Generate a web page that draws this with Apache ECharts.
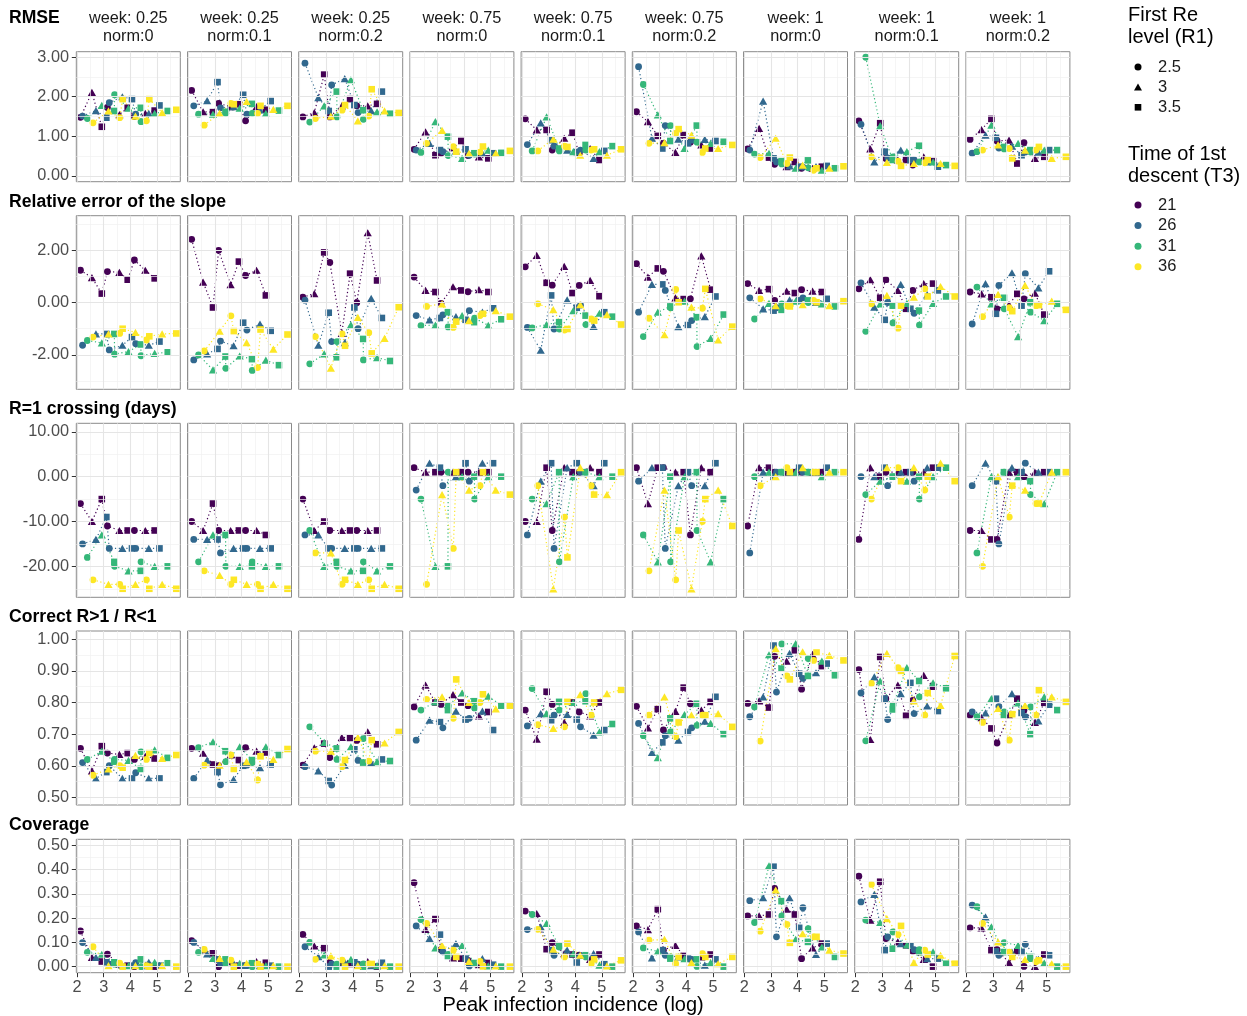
<!DOCTYPE html>
<html><head><meta charset="utf-8">
<script src="https://cdn.jsdelivr.net/npm/echarts@6/dist/echarts.min.js"></script>
<style>html,body{margin:0;padding:0;background:#fff}#c{width:1247px;height:1016px}</style>
</head><body><div id="c"></div>
<script>
// ---------------- DATA ----------------
const weekLabels = ['week: 0.25','week: 0.25','week: 0.25','week: 0.75','week: 0.75','week: 0.75','week: 1','week: 1','week: 1'];
const normLabels = ['norm:0','norm:0.1','norm:0.2','norm:0','norm:0.1','norm:0.2','norm:0','norm:0.1','norm:0.2'];
const rowTitles = ['RMSE','Relative error of the slope','R=1 crossing (days)','Correct R>1 / R<1','Coverage'];
const r1Levels = ['2.5','3','3.5'];
const t3Levels = ['21','26','31','36'];
// R1 level of each point (same order as values below)
const pointR1 = ['2.5','3','3.5','2.5','3','3.5','2.5','3','3.5'];
// peak infection incidence (log) of each point, per T3 level
const peakX21 = [2.13, 2.56, 2.93, 3.14, 3.59, 3.90, 4.15, 4.56, 4.91];
const peakX26 = [2.21, 2.71, 3.10, 3.21, 3.70, 4.06, 4.20, 4.69, 5.09];
const peakX31 = [2.39, 2.93, 3.40, 3.41, 3.93, 4.39, 4.40, 4.91, 5.40];
const peakX36 = [2.60, 3.18, 3.71, 3.60, 4.19, 4.71, 4.60, 5.19, 5.72];

// each metric: 9 panels x [T3=21, 26, 31, 36] x 9 points
const rmse = [
 [[1.48,2.11,1.24,1.73,1.55,1.72,1.50,1.58,1.65],[1.51,1.65,1.47,1.85,2.00,1.94,1.56,1.58,1.78],[1.45,1.78,1.64,2.05,1.71,1.72,1.37,1.58,1.64],[1.34,1.64,1.94,1.47,1.51,1.94,1.39,1.60,1.67]],
 [[2.16,1.62,1.61,1.83,1.75,1.81,1.39,1.75,1.67],[1.77,1.90,2.37,1.72,1.75,2.05,1.56,1.67,1.89],[1.56,1.56,1.62,1.58,1.71,1.82,1.58,1.58,1.65],[1.28,1.58,1.81,1.83,1.88,1.77,1.58,1.68,1.77]],
 [[1.49,1.60,2.56,1.49,1.77,1.94,1.77,1.77,1.82],[2.85,1.98,1.64,2.30,2.46,1.79,1.60,1.65,2.13],[1.36,1.77,2.13,1.49,2.43,1.66,1.43,1.62,1.57],[1.45,1.51,1.79,1.66,1.39,2.19,1.51,1.64,1.59]],
 [[0.67,1.11,0.52,0.57,0.71,0.88,0.51,0.48,0.44],[0.65,0.82,0.65,0.61,0.63,0.67,0.52,0.57,0.57],[0.59,1.37,0.99,0.51,0.44,0.57,0.55,0.65,0.58],[0.82,1.15,0.61,0.74,0.57,0.74,0.60,0.57,0.63]],
 [[1.44,1.16,1.16,0.65,0.95,1.09,0.57,0.69,0.40],[0.79,1.34,0.90,0.75,0.65,0.60,0.65,0.44,0.63],[0.63,1.49,0.69,0.63,0.61,0.78,0.65,0.61,0.75],[0.63,0.93,0.73,0.75,0.52,0.67,0.65,0.52,0.67]],
 [[1.62,1.37,1.01,0.82,0.59,1.03,0.85,0.78,0.69],[2.76,0.95,0.69,1.27,0.93,0.82,0.90,0.92,0.88],[2.31,1.54,0.88,1.27,0.69,1.27,0.85,0.82,0.86],[0.82,0.84,1.18,1.07,1.03,0.69,0.59,0.69,0.78]],
 [[0.68,1.20,0.46,0.29,0.23,0.35,0.19,0.19,0.23],[0.65,1.89,0.44,0.35,0.25,0.23,0.22,0.23,0.25],[0.55,0.57,0.37,0.30,0.19,0.39,0.20,0.14,0.19],[0.46,0.95,0.46,0.31,0.27,0.19,0.14,0.19,0.24]],
 [[1.39,0.68,1.33,0.44,0.40,0.40,0.27,0.48,0.37],[1.30,0.35,0.61,0.45,0.65,0.40,0.40,0.35,0.23],[3.00,1.27,0.40,0.48,0.61,0.76,0.35,0.35,0.27],[0.48,0.34,0.25,0.37,0.31,0.40,0.33,0.31,0.25]],
 [[0.92,1.17,1.44,0.88,0.90,0.31,0.84,0.44,0.48],[0.57,1.03,0.96,0.70,0.75,0.52,0.60,0.60,0.65],[0.61,1.28,0.73,0.68,0.82,0.65,0.60,0.65,0.65],[0.65,0.78,0.44,0.69,0.65,0.73,0.65,0.44,0.48]]
];
const slopeErr = [
 [[1.23,0.95,0.34,1.18,1.15,0.87,1.62,1.23,0.92],[-1.63,-1.20,-1.20,-1.81,-1.63,-1.32,-1.57,-1.63,-1.49],[-1.45,-1.54,-1.20,-1.97,-1.87,-1.60,-2.03,-1.94,-1.90],[-1.32,-1.20,-1.00,-1.18,-1.14,-1.29,-1.43,-1.20,-1.18]],
 [[2.41,0.78,-0.19,1.99,0.68,1.56,1.03,1.23,0.27],[-2.19,-1.96,-1.77,-1.47,-1.65,-0.77,-1.05,-0.82,-1.08],[-2.00,-2.57,-2.06,-2.51,-2.04,-2.16,-2.59,-2.20,-2.39],[-1.85,-1.09,-1.09,-0.51,-1.53,-1.03,-2.48,-1.78,-1.22]],
 [[0.20,0.34,1.91,1.53,-1.18,1.10,-0.01,2.66,0.84],[0.09,-1.63,-0.39,-1.49,-1.53,-0.19,-1.00,0.16,-0.59],[-2.34,-1.96,-2.09,-1.49,-0.85,-1.39,-2.19,-2.10,-2.23],[-1.30,-2.50,-1.65,-1.20,-0.57,-1.94,-1.15,-1.37,-0.18]],
 [[0.97,0.46,0.40,-0.03,0.60,0.46,0.41,0.49,0.40],[-0.50,-0.66,-0.59,-0.47,-0.54,-0.66,-0.31,-0.37,-0.22],[-0.88,-0.86,-0.37,-0.93,-0.50,-0.75,-0.60,-0.87,-0.64],[-0.15,-0.05,-0.73,-0.95,-0.69,-0.43,-0.50,-0.31,-0.54]],
 [[1.36,1.80,0.75,0.66,1.38,0.36,0.65,0.84,0.24],[-0.95,-1.82,0.27,-1.01,0.10,-0.20,-0.10,-0.91,-0.37],[-0.97,-0.84,-0.75,-1.01,-0.31,-0.50,-0.84,-0.41,-0.54],[-0.05,-0.27,-1.01,-1.05,-0.08,-0.69,-0.63,-0.46,-0.84]],
 [[1.48,0.97,1.30,1.19,0.18,0.13,0.14,1.78,0.49],[-0.37,0.69,0.69,0.46,-0.92,-0.86,-0.69,-0.54,0.23],[-1.30,-0.37,-0.15,-0.20,0.05,-0.56,-1.68,-1.37,-0.46],[-0.60,-1.23,0.01,0.50,-0.18,0.52,-0.22,-1.43,-0.92]],
 [[0.72,0.46,0.51,0.08,0.43,0.36,0.49,0.43,0.40],[0.18,-0.24,-0.31,-0.20,0.10,0.08,0.18,0.00,0.14],[-0.63,-0.03,-0.28,-0.05,0.05,0.08,0.00,-0.05,-0.15],[0.14,-0.12,-0.15,-0.12,-0.08,0.01,0.08,-0.12,0.05]],
 [[0.52,0.87,0.18,0.87,0.46,-0.24,0.46,0.72,0.72],[0.75,-0.18,-0.66,0.00,0.69,-0.24,-0.41,0.30,0.46],[-1.10,-0.05,-0.12,-0.78,-0.03,-0.31,-0.86,-0.03,0.23],[-0.05,0.27,-0.12,-0.98,0.20,0.23,0.52,0.61,0.23]],
 [[0.40,0.33,0.20,-0.24,-0.08,0.33,0.14,0.36,-0.46],[-0.82,0.72,-0.43,0.65,1.13,-0.12,1.10,0.56,1.19],[0.59,-0.05,0.18,-0.24,-1.30,0.01,-0.37,-0.69,-0.05],[-0.54,0.31,-0.33,-0.20,0.65,-0.10,-0.12,0.05,-0.28]]
];
const crossing = [
 [[-6,-10,-5,-11,-12,-12,-12,-12,-12],[-15,-14,-9,-16,-16,-16,-16,-16,-16],[-18,-13,-19,-20,-21,-21,-19,-20,-20],[-23,-24,-25,-24,-24,-25,-23,-24,-25]],
 [[-10,-12,-6,-12,-12,-12,-12,-12,-13],[-14,-14,-14,-17,-16,-16,-16,-16,-16],[-19,-13,-13,-20,-20,-20,-19,-20,-20],[-21,-22,-23,-24,-24,-25,-24,-24,-25]],
 [[-5,-12,-10,-12,-12,-12,-12,-12,-12],[-13,-13,-16,-16,-16,-16,-16,-16,-16],[-12,-20,-19,-20,-21,-21,-19,-21,-20],[-17,-17,-23,-24,-24,-25,-23,-24,-25]],
 [[2,1,1,1,1,1,1,1,1],[-3,3,2,-2,0,3,-1,3,3],[-5,-20,-20,1,0,0,-5,0,0],[-24,-4,1,-16,-3,1,-2,-3,-4]],
 [[-10,-10,2,-12,2,1,1,2,1],[-13,-1,3,-16,2,3,1,-2,3],[-5,-6,1,-19,0,1,1,0,0],[-2,-25,-18,-9,2,-4,-2,-4,1]],
 [[2,-6,2,2,1,1,-13,2,1],[-1,2,2,-16,-2,1,-2,-2,3],[-13,-19,0,-19,0,1,-12,-19,-5],[-21,-3,-12,-23,-25,-5,-10,-3,-11]],
 [[-11,2,2,1,1,1,1,1,1],[-17,1,0,1,1,2,1,1,2],[0,1,1,1,1,1,1,0,1],[-2,0,1,2,2,1,1,1,1]],
 [[-14,2,0,1,1,1,1,1,2],[0,0,2,-2,1,1,-1,2,2],[-4,-1,0,0,-1,0,-5,0,2],[-5,2,-1,2,2,0,-3,3,-1]],
 [[-12,-12,-14,-14,1,1,0,1,1],[-2,3,-1,-15,2,1,3,1,1],[-17,0,1,1,0,-1,-4,-6,1],[-20,0,-2,-9,-3,-6,-6,1,1]]
];
const correctSign = [
 [[0.655,0.584,0.662,0.64,0.636,0.64,0.62,0.63,0.623],[0.61,0.56,0.58,0.60,0.56,0.56,0.578,0.56,0.56],[0.62,0.646,0.613,0.62,0.617,0.59,0.644,0.65,0.625],[0.57,0.59,0.594,0.60,0.633,0.64,0.62,0.623,0.634]],
 [[0.655,0.64,0.604,0.60,0.634,0.618,0.657,0.646,0.642],[0.56,0.618,0.58,0.54,0.557,0.60,0.602,0.594,0.604],[0.657,0.676,0.646,0.613,0.66,0.618,0.61,0.66,0.634],[0.602,0.602,0.59,0.634,0.613,0.63,0.555,0.62,0.653]],
 [[0.602,0.657,0.67,0.626,0.69,0.688,0.68,0.707,0.668],[0.597,0.584,0.552,0.539,0.602,0.652,0.617,0.61,0.62],[0.723,0.674,0.655,0.62,0.66,0.61,0.686,0.613,0.615],[0.646,0.646,0.618,0.597,0.69,0.681,0.615,0.672,0.707]],
 [[0.786,0.855,0.80,0.794,0.825,0.80,0.79,0.758,0.77],[0.681,0.744,0.739,0.72,0.773,0.746,0.75,0.773,0.713],[0.776,0.802,0.776,0.79,0.83,0.804,0.783,0.82,0.79],[0.81,0.818,0.873,0.75,0.80,0.826,0.80,0.78,0.79]],
 [[0.776,0.684,0.834,0.794,0.737,0.80,0.77,0.758,0.80],[0.726,0.765,0.744,0.76,0.762,0.746,0.723,0.697,0.713],[0.844,0.765,0.802,0.776,0.80,0.804,0.828,0.707,0.732],[0.73,0.718,0.802,0.723,0.825,0.80,0.76,0.828,0.84]],
 [[0.788,0.72,0.779,0.713,0.772,0.847,0.796,0.776,0.802],[0.734,0.642,0.674,0.695,0.681,0.707,0.72,0.741,0.818],[0.695,0.626,0.75,0.707,0.762,0.796,0.728,0.734,0.70],[0.76,0.818,0.737,0.692,0.76,0.76,0.76,0.765,0.723]],
 [[0.797,0.805,0.784,0.946,0.931,0.965,0.842,0.952,0.915],[0.755,0.818,0.98,0.833,0.955,0.891,0.876,0.894,0.923],[0.786,0.951,0.907,0.985,0.986,0.884,0.939,0.931,0.886],[0.678,0.97,0.873,0.884,0.96,0.958,0.933,0.949,0.933]],
 [[0.904,0.683,0.944,0.812,0.855,0.758,0.807,0.886,0.85],[0.83,0.881,0.812,0.746,0.828,0.862,0.765,0.789,0.773],[0.679,0.868,0.778,0.792,0.91,0.868,0.818,0.862,0.845],[0.86,0.955,0.90,0.91,0.805,0.83,0.76,0.791,0.947]],
 [[0.76,0.752,0.718,0.672,0.76,0.812,0.776,0.737,0.799],[0.77,0.767,0.812,0.787,0.828,0.767,0.755,0.742,0.793],[0.755,0.812,0.76,0.77,0.799,0.70,0.786,0.818,0.776],[0.737,0.781,0.763,0.681,0.791,0.839,0.76,0.818,0.802]]
];
const coverage = [
 [[0.147,0.038,0.021,0.051,0.01,0.004,0.0,0.004,0.0],[0.099,0.038,0.018,0.01,0.005,0.004,0.016,0.018,0.004],[0.059,0.051,0.018,0.01,0.004,0.03,0.0,0.018,0.014],[0.082,0.004,0.0,0.014,0.004,0.0,0.004,0.004,0.0]],
 [[0.107,0.07,0.055,0.0,0.021,0.004,0.004,0.021,0.016],[0.10,0.052,0.03,0.011,0.014,0.004,0.004,0.004,0.004],[0.059,0.034,0.03,0.014,0.014,0.014,0.0,0.004,0.0],[0.071,0.034,0.0,0.027,0.014,0.0,0.011,0.004,0.0]],
 [[0.133,0.085,0.076,0.016,0.014,0.011,0.004,0.021,0.0],[0.082,0.041,0.0,0.011,0.018,0.018,0.01,0.004,0.016],[0.10,0.048,0.0,0.01,0.03,0.0,0.011,0.004,0.0],[0.03,0.044,0.0,0.027,0.004,0.011,0.011,0.004,0.0]],
 [[0.346,0.154,0.196,0.07,0.036,0.033,0.026,0.008,0.015],[0.168,0.116,0.132,0.061,0.095,0.033,0.003,0.033,0.008],[0.194,0.077,0.044,0.05,0.088,0.015,0.012,0.003,0.0],[0.178,0.088,0.04,0.068,0.022,0.001,0.022,0.003,0.0]],
 [[0.229,0.219,0.072,0.099,0.054,0.05,0.047,0.03,0.05],[0.153,0.164,0.068,0.047,0.068,0.017,0.045,0.054,0.01],[0.215,0.178,0.085,0.081,0.054,0.047,0.04,0.006,0.0],[0.154,0.072,0.095,0.04,0.047,0.03,0.012,0.003,0.026]],
 [[0.168,0.153,0.237,0.068,0.088,0.044,0.03,0.04,0.05],[0.143,0.036,0.068,0.047,0.04,0.033,0.03,0.006,0.03],[0.077,0.063,0.033,0.04,0.033,0.03,0.001,0.017,0.0],[0.109,0.112,0.04,0.012,0.017,0.04,0.054,0.012,0.04]],
 [[0.209,0.209,0.215,0.323,0.237,0.215,0.033,0.077,0.095],[0.272,0.284,0.412,0.123,0.284,0.16,0.243,0.05,0.095],[0.182,0.416,0.27,0.209,0.113,0.102,0.157,0.081,0.04],[0.146,0.316,0.098,0.174,0.136,0.123,0.123,0.068,0.054]],
 [[0.373,0.192,0.35,0.116,0.102,0.088,0.063,0.03,0.0],[0.267,0.298,0.068,0.123,0.095,0.088,0.07,0.033,0.033],[0.192,0.182,0.074,0.143,0.09,0.06,0.07,0.061,0.012],[0.339,0.198,0.168,0.132,0.017,0.05,0.068,0.047,0.012]],
 [[0.16,0.16,0.068,0.07,0.017,0.063,0.001,0.001,0.05],[0.254,0.205,0.063,0.047,0.06,0.061,0.092,0.03,0.047],[0.247,0.164,0.06,0.099,0.088,0.04,0.033,0.015,0.0],[0.178,0.102,0.04,0.06,0.03,0.026,0.02,0.012,0.0]]
];

// tick values
const xMajorTicks = [2, 3, 4, 5];
const xMinorTicks = [2.5, 3.5, 4.5, 5.5];
const rmseTicks = [0, 1, 2, 3];
const rmseMinor = [0.5, 1.5, 2.5];
const slopeTicks = [-2, 0, 2];
const slopeMinor = [-3, -1, 1, 3];
const crossTicks = [-20, -10, 0, 10];
const crossMinor = [-25, -15, -5, 5];
const correctTicks = [0.5, 0.6, 0.7, 0.8, 0.9, 1.0];
const correctMinor = [0.55, 0.65, 0.75, 0.85, 0.95];
const coverTicks = [0, 0.1, 0.2, 0.3, 0.4, 0.5];
const coverMinor = [0.05, 0.15, 0.25, 0.35, 0.45];

// ---------------- LAYOUT / STYLE ----------------
const FONT = '"Liberation Sans", Arial, Helvetica, sans-serif';
const colors = ['#440154', '#31688E', '#35B779', '#FDE725'];
const symbolFor = {'2.5': 'circle', '3': 'triangle', '3.5': 'rect'};
const sizeFor = {'2.5': 6.8, '3': [8.2, 7.2], '3.5': 6.6};
const metrics = [rmse, slopeErr, crossing, correctSign, coverage];
const majorY = [rmseTicks, slopeTicks, crossTicks, correctTicks, coverTicks];
const minorY = [rmseMinor, slopeMinor, crossMinor, correctMinor, coverMinor];
const xGroups = [peakX21, peakX26, peakX31, peakX36];
const rowBox = [[51.7, 130], [215.7, 173.6], [423.3, 174], [631, 174], [839.3, 133.4]];
const yRange = [[-0.15, 3.14], [-3.31, 3.31], [-26.9, 11.9], [0.476, 1.026], [-0.025, 0.525]];
const titleY = [18.5, 201.8, 409.5, 617.3, 825.5];
const X_MIN = 1.975, X_MAX = 5.87;
const LEFT0 = 76.3, PITCH = 111.2, PW = 104;

const grids = [], xAxes = [], yAxes = [], series = [];
for (let r = 0; r < 5; r++) {
  for (let c = 0; c < 9; c++) {
    const idx = r * 9 + c;
    grids.push({left: LEFT0 + PITCH * c, top: rowBox[r][0], width: PW, height: rowBox[r][1],
      show: true, borderColor: '#8a8a8a', borderWidth: 1, backgroundColor: 'transparent'});
    xAxes.push({type: 'value', gridIndex: idx, min: X_MIN, max: X_MAX,
      axisLine: {show: false, onZero: false}, splitLine: {show: false},
      axisTick: {show: r === 4, length: 4.5, customValues: xMajorTicks, lineStyle: {color: '#333333', width: 1}},
      axisLabel: {show: r === 4, customValues: xMajorTicks, margin: 7, fontSize: 16.3, color: '#4d4d4d', fontFamily: FONT,
        formatter: v => String(Math.round(v))}});
    yAxes.push({type: 'value', gridIndex: idx, min: yRange[r][0], max: yRange[r][1],
      axisLine: {show: false, onZero: false}, splitLine: {show: false},
      axisTick: {show: c === 0, length: 4.5, customValues: majorY[r], lineStyle: {color: '#333333', width: 1}},
      axisLabel: {show: c === 0, customValues: majorY[r], margin: 7.3, fontSize: 16.3, color: '#4d4d4d', fontFamily: FONT,
        formatter: v => Number(v).toFixed(2)}});
    // panel grid lines
    const gl = [];
    const major = {color: '#e5e5e5', width: 1.1, type: 'solid'};
    const minor = {color: '#f1f1f1', width: 0.7, type: 'solid'};
    xMinorTicks.forEach(v => gl.push({xAxis: v, lineStyle: minor}));
    minorY[r].forEach(v => gl.push({yAxis: v, lineStyle: minor}));
    xMajorTicks.forEach(v => gl.push({xAxis: v, lineStyle: major}));
    majorY[r].forEach(v => gl.push({yAxis: v, lineStyle: major}));
    series.push({type: 'line', name: 'grid' + idx, xAxisIndex: idx, yAxisIndex: idx, data: [], z: 1, silent: true,
      markLine: {silent: true, symbol: ['none', 'none'], label: {show: false}, animation: false,
        emphasis: {disabled: true}, data: gl}});
    for (let k = 0; k < 4; k++) {
      const ys = metrics[r][c][k];
      const pts = xGroups[k].map((x, i) => ({x: x, y: ys[i], r1: pointR1[i]}));
      const sorted = pts.slice().sort((a, b) => a.x - b.x);
      series.push({type: 'line', name: 'l' + idx + '_' + k, xAxisIndex: idx, yAxisIndex: idx,
        data: sorted.map(p => [p.x, p.y]), symbol: 'none', showSymbol: false, silent: true, z: 2,
        lineStyle: {color: colors[k], width: 1.2, type: [1.2, 2.6]}, animation: false});
    }
    for (let k = 0; k < 4; k++) {
      const ys = metrics[r][c][k];
      series.push({type: 'scatter', name: 's' + idx + '_' + k, xAxisIndex: idx, yAxisIndex: idx, silent: true, z: 3,
        data: xGroups[k].map((x, i) => ({value: [x, ys[i]], symbol: symbolFor[pointR1[i]], symbolSize: sizeFor[pointR1[i]]})),
        itemStyle: {color: colors[k], opacity: 1}, animation: false});
    }
  }
}
// legend helper series
r1Levels.forEach(l => series.push({type: 'scatter', name: l, data: [], xAxisIndex: 0, yAxisIndex: 0,
  symbol: symbolFor[l], itemStyle: {color: '#000000', opacity: 1}}));
t3Levels.forEach((l, k) => series.push({type: 'scatter', name: l, data: [], xAxisIndex: 0, yAxisIndex: 0,
  symbol: 'circle', itemStyle: {color: colors[k], opacity: 1}}));

const legends = [];
const r1Y = [62, 82, 102.3];
const t3Y = [200, 220.5, 241.3, 261.8];
const legendSize = {'2.5': [7, 7], '3': [8, 7], '3.5': [6.6, 6.6]};
r1Levels.forEach((l, i) => legends.push({data: [{name: l, icon: symbolFor[l], itemStyle: {opacity: 1}}], orient: 'vertical',
  left: 1138 - legendSize[l][0] / 2, top: r1Y[i] - 3.5,
  itemWidth: legendSize[l][0], itemHeight: legendSize[l][1], padding: 0, selectedMode: false,
  textStyle: {fontSize: 16.5, color: '#1a1a1a', fontFamily: FONT, lineHeight: 7,
    padding: [0, 0, 0, 15 - legendSize[l][0] / 2]}}));
t3Levels.forEach((l, i) => legends.push({data: [{name: l, icon: 'circle', itemStyle: {opacity: 1}}], orient: 'vertical', left: 1134.5, top: t3Y[i] - 3.5,
  itemWidth: 7, itemHeight: 7, padding: 0, selectedMode: false,
  textStyle: {fontSize: 16.5, color: '#1a1a1a', fontFamily: FONT, lineHeight: 7, padding: [0, 0, 0, 11.5]}}));

const graphic = [];
function txt(x, y, text, size, weight, align, color) {
  graphic.push({type: 'text', x: x, y: y, silent: true,
    style: {text: text, fontSize: size, fontWeight: weight, fontFamily: FONT, fill: color,
      textAlign: align, align: align, textVerticalAlign: 'middle', verticalAlign: 'middle'}});
}
rowTitles.forEach((t, r) => txt(9, titleY[r], t, 17.6, 'bold', 'left', '#000000'));
for (let c = 0; c < 9; c++) {
  const cx = LEFT0 + PITCH * c + PW / 2;
  txt(cx, 18.5, weekLabels[c], 16.3, 'normal', 'center', '#1a1a1a');
  txt(cx, 37, normLabels[c], 16.3, 'normal', 'center', '#1a1a1a');
}
txt((LEFT0 + LEFT0 + PITCH * 8 + PW) / 2, 1005, 'Peak infection incidence (log)', 20, 'normal', 'center', '#000000');
txt(1128, 15.5, 'First Re', 20, 'normal', 'left', '#000000');
txt(1128, 37, 'level (R1)', 20, 'normal', 'left', '#000000');
txt(1128, 154, 'Time of 1st', 20, 'normal', 'left', '#000000');
txt(1128, 176, 'descent (T3)', 20, 'normal', 'left', '#000000');

const chart = echarts.init(document.getElementById('c'), null, {renderer: 'canvas', width: 1247, height: 1016});
chart.setOption({
  animation: false,
  backgroundColor: '#ffffff',
  grid: grids, xAxis: xAxes, yAxis: yAxes,
  legend: legends,
  series: series,
  graphic: graphic
});
</script>
</body></html>
